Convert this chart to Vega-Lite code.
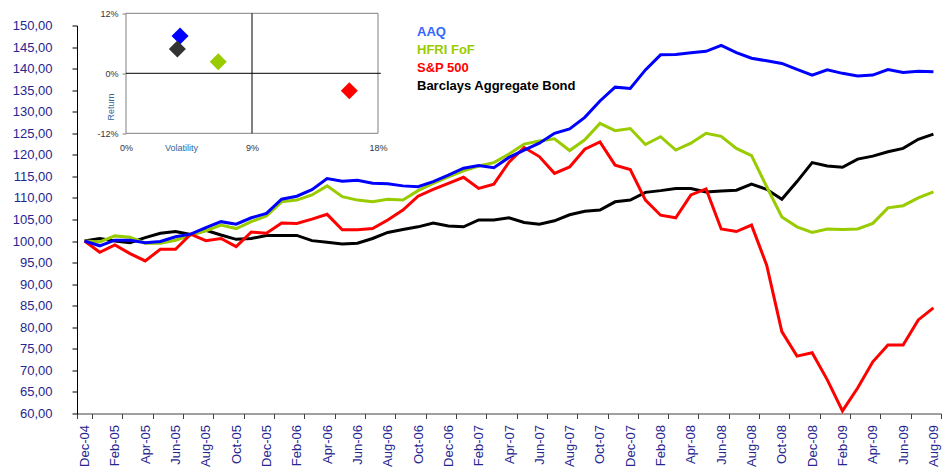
{
  "$schema": "https://vega.github.io/schema/vega-lite/v6.json",
  "autosize": {"type": "none"},
  "padding": {"left": 77, "top": 25.5, "right": 7, "bottom": 53.5},
  "width": 864,
  "height": 388,
  "config": {"view": {"stroke": null}, "font": "Liberation Sans"},
  "datasets": {
    "perf": [
      {"m": "Dec-04", "AAQ": 100, "HFRI FoF": 100, "S&P 500": 100, "Barclays Aggregate Bond": 100},
      {"m": "Jan-05", "AAQ": 98.9, "HFRI FoF": 99.8, "S&P 500": 97.4, "Barclays Aggregate Bond": 100.6},
      {"m": "Feb-05", "AAQ": 100.2, "HFRI FoF": 101.2, "S&P 500": 99.1, "Barclays Aggregate Bond": 100.0},
      {"m": "Mar-05", "AAQ": 100.2, "HFRI FoF": 100.9, "S&P 500": 97.1, "Barclays Aggregate Bond": 99.6},
      {"m": "Apr-05", "AAQ": 99.6, "HFRI FoF": 99.5, "S&P 500": 95.4, "Barclays Aggregate Bond": 100.8},
      {"m": "May-05", "AAQ": 99.9, "HFRI FoF": 99.5, "S&P 500": 98.1, "Barclays Aggregate Bond": 101.8},
      {"m": "Jun-05", "AAQ": 101.0, "HFRI FoF": 100.2, "S&P 500": 98.1, "Barclays Aggregate Bond": 102.2},
      {"m": "Jul-05", "AAQ": 101.6, "HFRI FoF": 101.4, "S&P 500": 101.6, "Barclays Aggregate Bond": 101.5},
      {"m": "Aug-05", "AAQ": 103.1, "HFRI FoF": 102.4, "S&P 500": 100.1, "Barclays Aggregate Bond": 102.5},
      {"m": "Sep-05", "AAQ": 104.5, "HFRI FoF": 103.7, "S&P 500": 100.6, "Barclays Aggregate Bond": 101.4},
      {"m": "Oct-05", "AAQ": 103.9, "HFRI FoF": 102.9, "S&P 500": 98.7, "Barclays Aggregate Bond": 100.4},
      {"m": "Nov-05", "AAQ": 105.4, "HFRI FoF": 104.5, "S&P 500": 102.1, "Barclays Aggregate Bond": 100.6},
      {"m": "Dec-05", "AAQ": 106.4, "HFRI FoF": 105.8, "S&P 500": 101.8, "Barclays Aggregate Bond": 101.3},
      {"m": "Jan-06", "AAQ": 109.7, "HFRI FoF": 109.1, "S&P 500": 104.2, "Barclays Aggregate Bond": 101.3},
      {"m": "Feb-06", "AAQ": 110.4, "HFRI FoF": 109.5, "S&P 500": 104.1, "Barclays Aggregate Bond": 101.3},
      {"m": "Mar-06", "AAQ": 111.9, "HFRI FoF": 110.7, "S&P 500": 105.1, "Barclays Aggregate Bond": 100.1},
      {"m": "Apr-06", "AAQ": 114.5, "HFRI FoF": 112.8, "S&P 500": 106.2, "Barclays Aggregate Bond": 99.7},
      {"m": "May-06", "AAQ": 113.9, "HFRI FoF": 110.3, "S&P 500": 102.6, "Barclays Aggregate Bond": 99.3},
      {"m": "Jun-06", "AAQ": 114.1, "HFRI FoF": 109.5, "S&P 500": 102.6, "Barclays Aggregate Bond": 99.5},
      {"m": "Jul-06", "AAQ": 113.4, "HFRI FoF": 109.1, "S&P 500": 102.9, "Barclays Aggregate Bond": 100.6},
      {"m": "Aug-06", "AAQ": 113.3, "HFRI FoF": 109.7, "S&P 500": 104.9, "Barclays Aggregate Bond": 102.0},
      {"m": "Sep-06", "AAQ": 112.8, "HFRI FoF": 109.5, "S&P 500": 107.2, "Barclays Aggregate Bond": 102.7},
      {"m": "Oct-06", "AAQ": 112.6, "HFRI FoF": 111.7, "S&P 500": 110.4, "Barclays Aggregate Bond": 103.3},
      {"m": "Nov-06", "AAQ": 113.8, "HFRI FoF": 113.4, "S&P 500": 112.0, "Barclays Aggregate Bond": 104.2},
      {"m": "Dec-06", "AAQ": 115.3, "HFRI FoF": 114.9, "S&P 500": 113.4, "Barclays Aggregate Bond": 103.5},
      {"m": "Jan-07", "AAQ": 116.9, "HFRI FoF": 116.3, "S&P 500": 114.8, "Barclays Aggregate Bond": 103.3},
      {"m": "Feb-07", "AAQ": 117.5, "HFRI FoF": 117.4, "S&P 500": 112.2, "Barclays Aggregate Bond": 104.9},
      {"m": "Mar-07", "AAQ": 117.0, "HFRI FoF": 118.2, "S&P 500": 113.2, "Barclays Aggregate Bond": 104.9},
      {"m": "Apr-07", "AAQ": 119.4, "HFRI FoF": 120.2, "S&P 500": 118.3, "Barclays Aggregate Bond": 105.4},
      {"m": "May-07", "AAQ": 121.1, "HFRI FoF": 122.5, "S&P 500": 121.7, "Barclays Aggregate Bond": 104.3},
      {"m": "Jun-07", "AAQ": 122.7, "HFRI FoF": 123.2, "S&P 500": 119.6, "Barclays Aggregate Bond": 103.9},
      {"m": "Jul-07", "AAQ": 125.0, "HFRI FoF": 123.7, "S&P 500": 115.7, "Barclays Aggregate Bond": 104.7},
      {"m": "Aug-07", "AAQ": 126.0, "HFRI FoF": 121.0, "S&P 500": 117.2, "Barclays Aggregate Bond": 106.1},
      {"m": "Sep-07", "AAQ": 128.7, "HFRI FoF": 123.5, "S&P 500": 121.3, "Barclays Aggregate Bond": 106.9},
      {"m": "Oct-07", "AAQ": 132.5, "HFRI FoF": 127.3, "S&P 500": 123.0, "Barclays Aggregate Bond": 107.2},
      {"m": "Nov-07", "AAQ": 135.7, "HFRI FoF": 125.6, "S&P 500": 117.6, "Barclays Aggregate Bond": 109.1},
      {"m": "Dec-07", "AAQ": 135.4, "HFRI FoF": 126.1, "S&P 500": 116.6, "Barclays Aggregate Bond": 109.5},
      {"m": "Jan-08", "AAQ": 139.7, "HFRI FoF": 122.4, "S&P 500": 109.5, "Barclays Aggregate Bond": 111.3},
      {"m": "Feb-08", "AAQ": 143.2, "HFRI FoF": 124.2, "S&P 500": 106.0, "Barclays Aggregate Bond": 111.7},
      {"m": "Mar-08", "AAQ": 143.3, "HFRI FoF": 121.1, "S&P 500": 105.4, "Barclays Aggregate Bond": 112.2},
      {"m": "Apr-08", "AAQ": 143.7, "HFRI FoF": 122.7, "S&P 500": 110.7, "Barclays Aggregate Bond": 112.2},
      {"m": "May-08", "AAQ": 144.0, "HFRI FoF": 125.0, "S&P 500": 112.1, "Barclays Aggregate Bond": 111.4},
      {"m": "Jun-08", "AAQ": 145.4, "HFRI FoF": 124.3, "S&P 500": 102.8, "Barclays Aggregate Bond": 111.6},
      {"m": "Jul-08", "AAQ": 143.7, "HFRI FoF": 121.5, "S&P 500": 102.2, "Barclays Aggregate Bond": 111.8},
      {"m": "Aug-08", "AAQ": 142.4, "HFRI FoF": 119.8, "S&P 500": 103.7, "Barclays Aggregate Bond": 113.2},
      {"m": "Sep-08", "AAQ": 141.8, "HFRI FoF": 112.6, "S&P 500": 94.4, "Barclays Aggregate Bond": 112.0},
      {"m": "Oct-08", "AAQ": 141.2, "HFRI FoF": 105.6, "S&P 500": 79.0, "Barclays Aggregate Bond": 109.7},
      {"m": "Nov-08", "AAQ": 139.8, "HFRI FoF": 103.3, "S&P 500": 73.3, "Barclays Aggregate Bond": 113.8},
      {"m": "Dec-08", "AAQ": 138.5, "HFRI FoF": 102.0, "S&P 500": 74.1, "Barclays Aggregate Bond": 118.2},
      {"m": "Jan-09", "AAQ": 139.7, "HFRI FoF": 102.8, "S&P 500": 67.8, "Barclays Aggregate Bond": 117.4},
      {"m": "Feb-09", "AAQ": 138.9, "HFRI FoF": 102.7, "S&P 500": 60.6, "Barclays Aggregate Bond": 117.1},
      {"m": "Mar-09", "AAQ": 138.3, "HFRI FoF": 102.8, "S&P 500": 65.9, "Barclays Aggregate Bond": 119.0},
      {"m": "Apr-09", "AAQ": 138.5, "HFRI FoF": 104.1, "S&P 500": 72.0, "Barclays Aggregate Bond": 119.7},
      {"m": "May-09", "AAQ": 139.8, "HFRI FoF": 107.7, "S&P 500": 75.9, "Barclays Aggregate Bond": 120.7},
      {"m": "Jun-09", "AAQ": 139.1, "HFRI FoF": 108.2, "S&P 500": 75.9, "Barclays Aggregate Bond": 121.5},
      {"m": "Jul-09", "AAQ": 139.4, "HFRI FoF": 110.0, "S&P 500": 81.7, "Barclays Aggregate Bond": 123.6},
      {"m": "Aug-09", "AAQ": 139.3, "HFRI FoF": 111.4, "S&P 500": 84.5, "Barclays Aggregate Bond": 124.8}
    ],
    "risk": [
      {"series": "AAQ", "vol": 3.86, "ret": 7.46},
      {"series": "Barclays Aggregate Bond", "vol": 3.67, "ret": 4.86},
      {"series": "HFRI FoF", "vol": 6.59, "ret": 2.32},
      {"series": "S&P 500", "vol": 15.95, "ret": -3.47}
    ]
  },
  "layer": [
    {
      "data": {"name": "perf"},
      "transform": [
        {"fold": ["Barclays Aggregate Bond", "HFRI FoF", "S&P 500", "AAQ"], "as": ["series", "value"]}
      ],
      "mark": {"type": "line", "strokeWidth": 3},
      "encoding": {
        "x": {
          "field": "m",
          "type": "ordinal",
          "bandPosition": 0.5,
          "scale": {
            "type": "band",
            "paddingInner": 0,
            "paddingOuter": 0,
            "domain": ["Dec-04","Jan-05","Feb-05","Mar-05","Apr-05","May-05","Jun-05","Jul-05","Aug-05","Sep-05","Oct-05","Nov-05","Dec-05","Jan-06","Feb-06","Mar-06","Apr-06","May-06","Jun-06","Jul-06","Aug-06","Sep-06","Oct-06","Nov-06","Dec-06","Jan-07","Feb-07","Mar-07","Apr-07","May-07","Jun-07","Jul-07","Aug-07","Sep-07","Oct-07","Nov-07","Dec-07","Jan-08","Feb-08","Mar-08","Apr-08","May-08","Jun-08","Jul-08","Aug-08","Sep-08","Oct-08","Nov-08","Dec-08","Jan-09","Feb-09","Mar-09","Apr-09","May-09","Jun-09","Jul-09","Aug-09"]
          },
          "axis": {
            "values": ["Dec-04","Feb-05","Apr-05","Jun-05","Aug-05","Oct-05","Dec-05","Feb-06","Apr-06","Jun-06","Aug-06","Oct-06","Dec-06","Feb-07","Apr-07","Jun-07","Aug-07","Oct-07","Dec-07","Feb-08","Apr-08","Jun-08","Aug-08","Oct-08","Dec-08","Feb-09","Apr-09","Jun-09","Aug-09"],
            "tickBand": "extent",
            "labelAngle": -90,
            "labelAlign": "right",
            "labelBaseline": "middle",
            "labelFontSize": 13,
            "labelFont": "Liberation Sans",
            "labelColor": "#262690",
            "labelPadding": 6,
            "labelOverlap": false,
            "tickSize": 5,
            "domainColor": "#404040",
            "tickColor": "#404040",
            "grid": false,
            "title": null
          }
        },
        "y": {
          "field": "value",
          "type": "quantitative",
          "scale": {"domain": [60, 150], "nice": false, "zero": false},
          "axis": {
            "values": [60,65,70,75,80,85,90,95,100,105,110,115,120,125,130,135,140,145,150],
            "labelExpr": "replace(format(datum.value, '.2f'), '.', ',')",
            "labelFontSize": 13,
            "labelFont": "Liberation Sans",
            "labelColor": "#262690",
            "labelPadding": 20,
            "tickSize": 5,
            "domainColor": "#000000",
            "tickColor": "#000000",
            "grid": false,
            "title": null
          }
        },
        "color": {
          "field": "series",
          "type": "nominal",
          "scale": {
            "domain": ["AAQ", "HFRI FoF", "S&P 500", "Barclays Aggregate Bond"],
            "range": ["#0000FF", "#99CC00", "#FF0000", "#000000"]
          },
          "legend": {
            "orient": "none",
            "legendX": 327,
            "legendY": -0.5,
            "title": null,
            "padding": 0,
            "symbolSize": 0,
            "symbolOpacity": 0,
            "symbolStrokeWidth": 0,
            "labelOffset": 0,
            "labelFontSize": 13,
            "labelFontWeight": "bold",
            "labelFont": "Liberation Sans",
            "labelLimit": 400,
            "rowPadding": 4,
            "labelColor": {"expr": "datum.label == 'AAQ' ? '#3366FF' : datum.label == 'HFRI FoF' ? '#99CC00' : datum.label == 'S&P 500' ? '#FF0000' : '#000000'"}
          }
        }
      }
    },
    {
      "layer": [
        {
          "data": {"values": [{}]},
          "mark": {"type": "rect", "fill": "#FFFFFF", "stroke": "#808080", "strokeWidth": 1},
          "encoding": {
            "x": {"datum": 0, "type": "quantitative"},
            "x2": {"datum": 18},
            "y": {"datum": -12, "type": "quantitative"},
            "y2": {"datum": 12}
          }
        },
        {
          "data": {"values": [{}]},
          "mark": {"type": "rule", "color": "#000000", "strokeWidth": 1},
          "encoding": {
            "x": {"datum": 9, "type": "quantitative"},
            "y": {"datum": -12, "type": "quantitative"},
            "y2": {"datum": 12}
          }
        },
        {
          "data": {"values": [{}]},
          "mark": {"type": "rule", "color": "#000000", "strokeWidth": 1},
          "encoding": {
            "x": {"datum": 0, "type": "quantitative"},
            "x2": {"datum": 18.2},
            "y": {"datum": 0, "type": "quantitative"}
          }
        },
        {
          "data": {"name": "risk"},
          "mark": {"type": "point", "shape": "diamond", "filled": true, "size": 290, "opacity": 1},
          "encoding": {
            "x": {
              "field": "vol",
              "type": "quantitative",
              "scale": {"domain": [0, 18], "range": [49, 301], "nice": false, "zero": false},
              "axis": {
                "orient": "bottom",
                "offset": -280.2,
                "values": [0, 9, 18],
                "labelExpr": "datum.value + '%'",
                "labelFlush": false,
                "domain": false,
                "ticks": false,
                "tickSize": 0,
                "labelPadding": 10,
                "labelFontSize": 9,
                "labelFont": "Liberation Sans",
                "labelColor": "#333333",
                "grid": false,
                "title": "Volatility",
                "titleFontSize": 9,
                "titleFont": "Liberation Sans",
                "titleFontWeight": "normal",
                "titleColor": "#336699",
                "titleX": 104,
                "titleY": 14,
                "titleAlign": "center",
                "titleBaseline": "middle"
              }
            },
            "y": {
              "field": "ret",
              "type": "quantitative",
              "scale": {"domain": [-12, 12], "range": [107.8, -12.2], "nice": false, "zero": false},
              "axis": {
                "orient": "left",
                "offset": -49,
                "values": [-12, 0, 12],
                "labelExpr": "datum.value + '%'",
                "domain": false,
                "ticks": true,
                "tickSize": 4,
                "tickColor": "#808080",
                "labelPadding": 4,
                "labelFontSize": 9,
                "labelFont": "Liberation Sans",
                "labelColor": "#333333",
                "grid": false,
                "title": "Return",
                "titleFontSize": 9,
                "titleFont": "Liberation Sans",
                "titleFontWeight": "normal",
                "titleColor": "#336699",
                "titleAngle": 270,
                "titleX": -16,
                "titleY": 81,
                "titleAlign": "center",
                "titleBaseline": "middle"
              }
            },
            "color": {
              "field": "series",
              "type": "nominal",
              "scale": {
                "domain": ["AAQ", "HFRI FoF", "S&P 500", "Barclays Aggregate Bond"],
                "range": ["#0000FF", "#99CC00", "#FF0000", "#333333"]
              },
              "legend": null
            }
          }
        }
      ]
    }
  ],
  "resolve": {
    "scale": {"x": "independent", "y": "independent", "color": "independent"},
    "axis": {"x": "independent", "y": "independent"}
  }
}
